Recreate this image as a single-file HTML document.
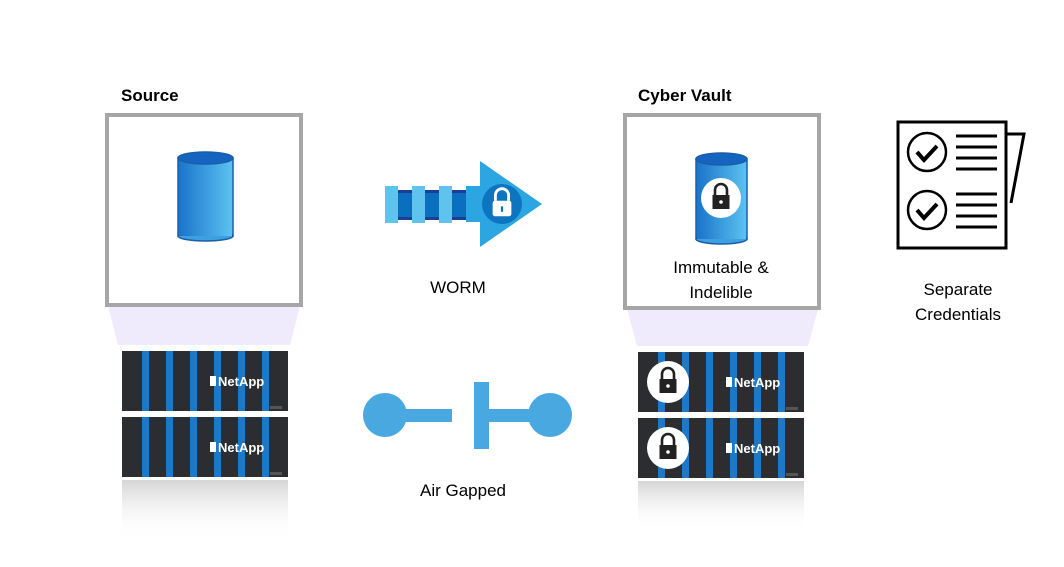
<!DOCTYPE html>
<html><head><meta charset="utf-8"><style>body{margin:0;background:#fff}svg{display:block}text{font-family:"Liberation Sans",sans-serif}</style></head><body>
<svg width="1064" height="567" viewBox="0 0 1064 567" xmlns="http://www.w3.org/2000/svg">
<defs>
<linearGradient id="cyl" x1="0" x2="1"><stop offset="0" stop-color="#1a73c9"/><stop offset="1" stop-color="#5bc3f0"/></linearGradient>
<linearGradient id="refl" x1="0" y1="0" x2="0" y2="1"><stop offset="0" stop-color="#888" stop-opacity=".35"/><stop offset="1" stop-color="#fff" stop-opacity="0"/></linearGradient>
<g id="srv">
<rect x="0" y="0" width="166" height="60" fill="#2c2d30"/>
<g fill="#1e78c8"><rect x="20" y="0" width="7" height="60"/><rect x="44" y="0" width="7" height="60"/><rect x="68" y="0" width="7" height="60"/><rect x="92" y="0" width="7" height="60"/><rect x="116" y="0" width="7" height="60"/><rect x="140" y="0" width="7" height="60"/></g>
<rect x="88" y="25" width="6" height="10" fill="#fff"/>
<text x="96" y="35" font-size="13" fill="#fff" font-weight="bold">NetApp</text>
<rect x="148" y="55" width="12" height="3" fill="#555"/>
</g>
<g id="lock"><path d="M-6,-2 v-5 a6,6 0 0 1 12,0 v5" fill="none" stroke="#222" stroke-width="2.6"/><rect x="-8.5" y="-2" width="17" height="14" fill="#222"/><circle cx="0" cy="5" r="1.8" fill="#fff"/></g>
</defs>
<!-- Source -->
<text x="121" y="101" font-size="17" font-weight="bold">Source</text>
<polygon points="108,306 300,306 290,345 118,345" fill="#efeafc"/>
<rect x="107" y="115" width="194" height="190" fill="#fff" stroke="#a6a6a6" stroke-width="4"/>
<rect x="178" y="158" width="55" height="78" fill="url(#cyl)" stroke="#1a5ea8" stroke-width="1.5"/>
<ellipse cx="205.5" cy="236" rx="27.5" ry="5" fill="#3da0e0" stroke="#1a5ea8" stroke-width="1.5"/>
<rect x="179" y="230" width="53" height="6" fill="url(#cyl)"/>
<ellipse cx="205.5" cy="158" rx="27.5" ry="6" fill="#1565c0" stroke="#1a5ea8" stroke-width="1.5"/>
<use href="#srv" x="122" y="351"/><use href="#srv" x="122" y="417"/>
<rect x="122" y="480" width="166" height="60" fill="url(#refl)"/>
<!-- Arrow -->
<rect x="385" y="192" width="90" height="26" fill="#0b6fbf"/>
<rect x="385" y="190" width="90" height="3" fill="#1d3f8f"/><rect x="385" y="217" width="90" height="3" fill="#1d3f8f"/>
<g fill="#5fc3ee"><rect x="385" y="186" width="13" height="37"/><rect x="412" y="186" width="13" height="37"/><rect x="439" y="186" width="13" height="37"/></g>
<polygon points="466,186 480,186 480,161 542,204 480,247 480,222 466,222" fill="#2ba6e3"/>
<circle cx="502" cy="204" r="20" fill="#0d74c0"/>
<g transform="translate(502,203) scale(1.1)"><path d="M-6,-2 v-5 a6,6 0 0 1 12,0 v5" fill="none" stroke="#fff" stroke-width="2.6"/><rect x="-8.5" y="-2" width="17" height="14" rx="2" fill="#fff"/><rect x="-1" y="3" width="2" height="5" fill="#0d74c0"/></g>
<text x="458" y="293" font-size="17" text-anchor="middle">WORM</text>
<!-- Air gap -->
<circle cx="385" cy="415" r="22" fill="#4aa8e0"/><rect x="395" y="409" width="57" height="13" fill="#4aa8e0"/>
<rect x="474" y="382" width="15" height="67" fill="#4aa8e0"/><rect x="489" y="409" width="45" height="13" fill="#4aa8e0"/>
<circle cx="550" cy="415" r="22" fill="#4aa8e0"/>
<text x="463" y="496" font-size="17" text-anchor="middle">Air Gapped</text>
<!-- Vault -->
<text x="638" y="101" font-size="17" font-weight="bold">Cyber Vault</text>
<polygon points="627,309 818,309 808,346 637,346" fill="#efeafc"/>
<rect x="625" y="115" width="194" height="193" fill="#fff" stroke="#a6a6a6" stroke-width="4"/>
<rect x="696" y="159" width="51" height="80" fill="url(#cyl)" stroke="#1a5ea8" stroke-width="1.5"/>
<ellipse cx="721.5" cy="239" rx="25.5" ry="5" fill="#3da0e0" stroke="#1a5ea8" stroke-width="1.5"/>
<rect x="697" y="233" width="49" height="6" fill="url(#cyl)"/>
<ellipse cx="721.5" cy="159" rx="25.5" ry="6" fill="#1565c0" stroke="#1a5ea8" stroke-width="1.5"/>
<circle cx="721" cy="198" r="20" fill="#fff"/><use href="#lock" x="721" y="197"/>
<text x="721" y="273" font-size="17" text-anchor="middle">Immutable &amp;</text>
<text x="721" y="298" font-size="17" text-anchor="middle">Indelible</text>
<use href="#srv" x="638" y="352"/><use href="#srv" x="638" y="418"/>
<circle cx="668" cy="382" r="21" fill="#fff"/><use href="#lock" x="668" y="381"/>
<circle cx="668" cy="448" r="21" fill="#fff"/><use href="#lock" x="668" y="447"/>
<rect x="638" y="481" width="166" height="50" fill="url(#refl)"/>
<!-- Checklist -->
<polyline points="1006,134 1024,134 1011,203" fill="none" stroke="#000" stroke-width="3"/>
<rect x="898" y="122" width="108" height="126" fill="#fff" stroke="#000" stroke-width="3"/>
<circle cx="927" cy="152" r="19" fill="none" stroke="#000" stroke-width="2.5"/>
<polyline points="917,152 924,160 937,146" fill="none" stroke="#000" stroke-width="4"/>
<circle cx="927" cy="210" r="19" fill="none" stroke="#000" stroke-width="2.5"/>
<polyline points="917,210 924,218 937,204" fill="none" stroke="#000" stroke-width="4"/>
<g stroke="#000" stroke-width="3"><line x1="956" y1="136" x2="997" y2="136"/><line x1="956" y1="147" x2="997" y2="147"/><line x1="956" y1="158" x2="997" y2="158"/><line x1="956" y1="169" x2="997" y2="169"/><line x1="956" y1="194" x2="997" y2="194"/><line x1="956" y1="205" x2="997" y2="205"/><line x1="956" y1="216" x2="997" y2="216"/><line x1="956" y1="227" x2="997" y2="227"/></g>
<text x="958" y="295" font-size="17" text-anchor="middle">Separate</text>
<text x="958" y="320" font-size="17" text-anchor="middle">Credentials</text>
</svg>
</body></html>
